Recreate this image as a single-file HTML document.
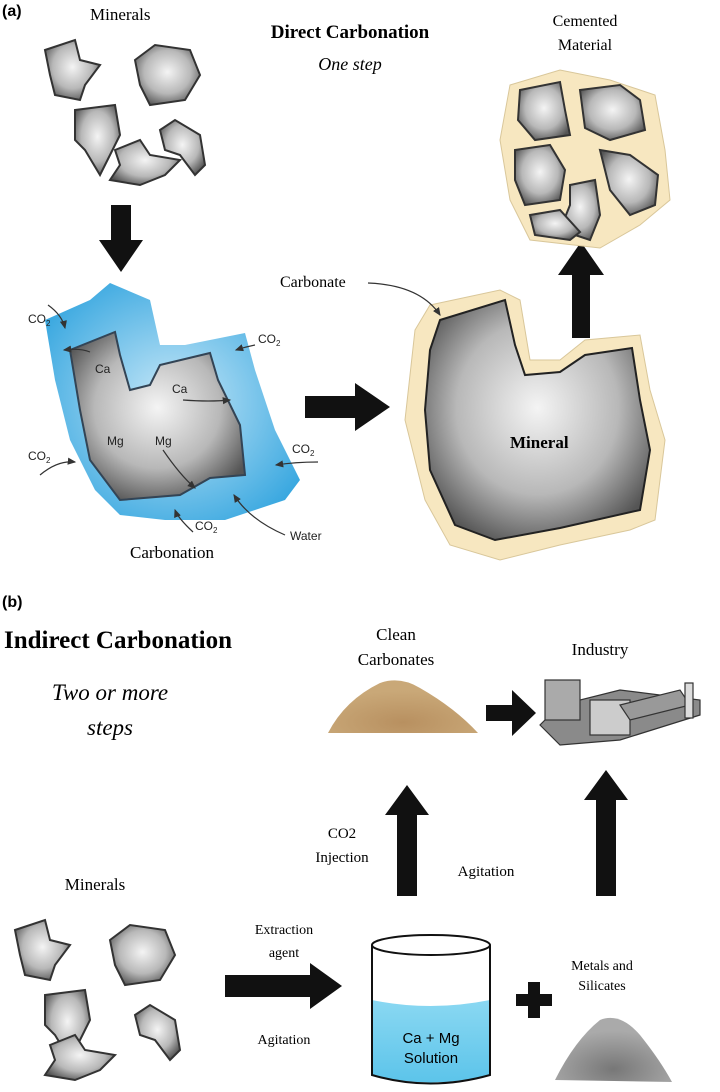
<!DOCTYPE html>
<html><head><meta charset="utf-8"><style>
body{margin:0;background:#fff}
svg{display:block}
.s{font-family:"Liberation Serif",serif}
.a{font-family:"Liberation Sans",sans-serif}
</style></head><body>
<svg width="720" height="1092" viewBox="0 0 720 1092" xmlns="http://www.w3.org/2000/svg">
<defs>
<radialGradient id="g" cx="50%" cy="45%" r="60%"><stop offset="0" stop-color="#f4f4f4"/><stop offset="0.6" stop-color="#b8b8b8"/><stop offset="1" stop-color="#555"/></radialGradient>
<radialGradient id="gb" cx="50%" cy="50%" r="60%"><stop offset="0" stop-color="#c8e8f8"/><stop offset="1" stop-color="#3aa8e0"/></radialGradient>
<linearGradient id="lq" x1="0" y1="0" x2="0" y2="1"><stop offset="0" stop-color="#8ad8f2"/><stop offset="1" stop-color="#5cc4ea"/></linearGradient>
<radialGradient id="sand" cx="50%" cy="80%" r="60%"><stop offset="0" stop-color="#b89060"/><stop offset="1" stop-color="#c9a878"/></radialGradient>
<radialGradient id="grey" cx="50%" cy="80%" r="60%"><stop offset="0" stop-color="#777"/><stop offset="1" stop-color="#aaa"/></radialGradient>
<path id="m1" d="M0,10 L30,0 L35,20 L55,25 L40,45 L35,60 L10,55 L5,35 Z"/>
<path id="m2" d="M0,15 L20,0 L55,5 L65,30 L50,55 L15,60 L5,40 Z"/>
<path id="m3" d="M0,5 L40,0 L45,30 L35,50 L25,70 L10,45 L0,35 Z"/>
<path id="m4" d="M0,10 L15,0 L40,15 L45,45 L35,55 L20,35 L5,30 Z"/>
<path id="m5" d="M5,10 L30,0 L40,15 L70,20 L55,35 L30,45 L0,40 L10,25 Z"/>
<marker id="ah" markerWidth="8" markerHeight="8" refX="6" refY="3" orient="auto"><path d="M0,0 L7,3 L0,6 Z" fill="#333"/></marker>
</defs>
<g fill="url(#g)" stroke="#333" stroke-width="2">
<use href="#m1" x="45" y="40"/><use href="#m2" x="135" y="45"/><use href="#m3" x="75" y="105"/><use href="#m4" x="160" y="120"/><use href="#m5" x="110" y="140"/>
</g>
<text class="a" x="2" y="16" font-size="16" font-weight="bold">(a)</text>
<text class="s" x="90" y="20" font-size="17">Minerals</text>
<text class="s" x="350" y="38" font-size="19" font-weight="bold" text-anchor="middle">Direct Carbonation</text>
<text class="s" x="350" y="70" font-size="18" font-style="italic" text-anchor="middle">One step</text>
<text class="s" x="585" y="26" font-size="16" text-anchor="middle">Cemented</text>
<text class="s" x="585" y="50" font-size="16" text-anchor="middle">Material</text>
<path d="M111,205 H131 V240 H143 L121,272 L99,240 H111 Z" fill="#111"/>
<path d="M45,320 L90,300 L110,283 L150,300 L160,345 L185,345 L245,333 L255,370 L275,430 L300,480 L285,500 L255,510 L225,520 L165,520 L120,515 L95,490 L70,440 L55,380 Z" fill="url(#gb)"/>
<path d="M70,350 L115,332 L120,355 L130,390 L150,385 L160,365 L210,353 L218,380 L240,425 L245,475 L210,478 L180,495 L120,500 L90,460 L80,410 Z" fill="url(#g)" stroke="#345" stroke-width="2"/>
<g class="a" font-size="12" fill="#222">
<text x="95" y="373">Ca</text><text x="172" y="393">Ca</text><text x="107" y="445">Mg</text><text x="155" y="445">Mg</text>
<text x="28" y="323">CO<tspan font-size="8" dy="3">2</tspan></text>
<text x="258" y="343">CO<tspan font-size="8" dy="3">2</tspan></text>
<text x="28" y="460">CO<tspan font-size="8" dy="3">2</tspan></text>
<text x="292" y="453">CO<tspan font-size="8" dy="3">2</tspan></text>
<text x="195" y="530">CO<tspan font-size="8" dy="3">2</tspan></text>
<text x="290" y="540">Water</text>
</g>
<g fill="none" stroke="#333" stroke-width="1.2" marker-end="url(#ah)">
<path d="M48,305 Q62,315 65,328"/><path d="M90,352 Q80,348 64,350"/><path d="M255,345 Q245,347 236,350"/>
<path d="M183,400 Q210,402 230,400"/><path d="M163,450 Q180,475 195,488"/><path d="M40,475 Q58,460 75,462"/>
<path d="M318,462 Q295,462 276,465"/>
<path d="M193,532 Q178,518 175,510"/><path d="M285,535 Q250,520 234,495"/>
</g>
<text class="s" x="130" y="558" font-size="17">Carbonation</text>
<path d="M305,396 H355 V383 L390,407 L355,431 V418 H305 Z" fill="#111"/>
<path d="M430,305 L500,290 L520,300 L530,360 L560,360 L585,340 L640,335 L650,390 L665,440 L655,520 L630,530 L560,545 L500,560 L450,545 L425,500 L405,420 L415,330 Z" fill="#f7e7c0" stroke="#d9c79a" stroke-width="1"/>
<path d="M440,320 L505,300 L515,345 L525,375 L560,372 L585,355 L632,348 L640,400 L650,450 L640,510 L560,528 L495,540 L455,525 L430,470 L425,410 L430,350 Z" fill="url(#g)" stroke="#222" stroke-width="2"/>
<text class="s" x="510" y="448" font-size="17" font-weight="bold">Mineral</text>
<text class="s" x="280" y="287" font-size="16">Carbonate</text>
<path d="M368,283 Q420,285 440,315" fill="none" stroke="#333" stroke-width="1.2" marker-end="url(#ah)"/>
<path d="M572,338 V275 H558 L581,242 L604,275 H590 V338 Z" fill="#111"/>
<path d="M510,85 L560,70 L610,80 L655,95 L665,150 L670,200 L640,225 L600,248 L530,240 L510,200 L500,140 Z" fill="#f7e7c0" stroke="#d9c79a"/>
<g fill="url(#g)" stroke="#333" stroke-width="2">
<path d="M520,90 L560,82 L565,110 L570,135 L535,140 L518,120 Z"/>
<path d="M580,90 L620,85 L640,100 L645,130 L610,140 L585,128 Z"/>
<path d="M515,150 L550,145 L565,170 L560,200 L525,205 L515,180 Z"/>
<path d="M600,150 L630,155 L658,175 L655,205 L630,215 L610,190 Z"/>
<path d="M570,185 L595,180 L600,215 L590,240 L560,230 L570,205 Z"/>
<path d="M530,215 L560,210 L580,232 L570,240 L535,235 Z"/>
</g>
<text class="a" x="2" y="607" font-size="16" font-weight="bold">(b)</text>
<text class="s" x="4" y="648" font-size="25" font-weight="bold">Indirect Carbonation</text>
<text class="s" x="110" y="700" font-size="23" font-style="italic" text-anchor="middle">Two or more</text>
<text class="s" x="110" y="735" font-size="23" font-style="italic" text-anchor="middle">steps</text>
<text class="s" x="396" y="640" font-size="17" text-anchor="middle">Clean</text>
<text class="s" x="396" y="665" font-size="17" text-anchor="middle">Carbonates</text>
<text class="s" x="600" y="655" font-size="17" text-anchor="middle">Industry</text>
<path d="M328,733 Q345,700 380,683 Q400,676 420,688 Q455,708 478,733 Z" fill="url(#sand)"/>
<path d="M486,705 H512 V690 L536,713 L512,736 V721 H486 Z" fill="#111"/>
<g stroke="#333" stroke-width="1.2">
<path d="M540,725 L560,745 L620,740 L700,715 L700,700 L620,690 L560,705 Z" fill="#8a8a8a"/>
<rect x="545" y="680" width="35" height="40" fill="#aaa"/>
<rect x="590" y="700" width="40" height="35" fill="#ccc"/>
<path d="M620,705 L680,690 L690,705 L630,720 Z" fill="#999"/>
<rect x="685" y="683" width="8" height="35" fill="#ddd"/>
</g>
<path d="M397,896 V815 H385 L407,785 L429,815 H417 V896 Z" fill="#111"/>
<path d="M596,896 V800 H584 L606,770 L628,800 H616 V896 Z" fill="#111"/>
<text class="s" x="342" y="838" font-size="15" text-anchor="middle">CO2</text>
<text class="s" x="342" y="862" font-size="15" text-anchor="middle">Injection</text>
<text class="s" x="486" y="876" font-size="15" text-anchor="middle">Agitation</text>
<text class="s" x="95" y="890" font-size="17" text-anchor="middle">Minerals</text>
<g fill="url(#g)" stroke="#333" stroke-width="2">
<use href="#m1" x="15" y="920"/><use href="#m2" x="110" y="925"/><use href="#m3" x="45" y="990"/><use href="#m4" x="135" y="1005"/><use href="#m5" x="45" y="1035"/>
</g>
<text class="s" x="284" y="934" font-size="14" text-anchor="middle">Extraction</text>
<text class="s" x="284" y="957" font-size="14" text-anchor="middle">agent</text>
<path d="M225,975 H310 V963 L342,986 L310,1009 V997 H225 Z" fill="#111"/>
<text class="s" x="284" y="1044" font-size="14" text-anchor="middle">Agitation</text>
<path d="M372,1000 V1075 Q430,1090 490,1075 V1000 Q430,1012 372,1000 Z" fill="url(#lq)"/>
<ellipse cx="431" cy="945" rx="59" ry="10" fill="none" stroke="#111" stroke-width="2"/>
<path d="M372,945 V1075 Q430,1092 490,1075 V945" fill="none" stroke="#111" stroke-width="2"/>
<text class="a" x="431" y="1043" font-size="15" text-anchor="middle">Ca + Mg</text>
<text class="a" x="431" y="1063" font-size="15" text-anchor="middle">Solution</text>
<path d="M528,982 H540 V994 H552 V1006 H540 V1018 H528 V1006 H516 V994 H528 Z" fill="#111"/>
<text class="s" x="602" y="970" font-size="14" text-anchor="middle">Metals and</text>
<text class="s" x="602" y="990" font-size="14" text-anchor="middle">Silicates</text>
<path d="M555,1080 Q575,1040 600,1020 Q620,1012 640,1035 Q660,1060 672,1082 Z" fill="url(#grey)"/>
</svg>
</body></html>
